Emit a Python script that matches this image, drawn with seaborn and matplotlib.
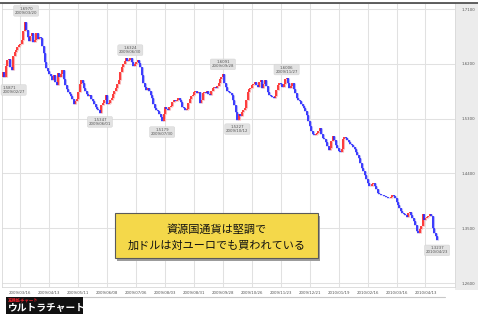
import numpy as np
import pandas as pd
import matplotlib
matplotlib.use("Agg")
import matplotlib.pyplot as plt
import seaborn as sns
from matplotlib.patches import Rectangle
from matplotlib.lines import Line2D

# ---------------- data ----------------
start_date = "2009-02-26"
end_date = "2010-04-23"
skip_dates = ["2010-01-01"]
first_open = 1.5990

# daily closes in pips (1/10000)
close_pips = [
    16065, 15983, 16163, 16263, 16280, 16148, 16098, 16329, 16394, 16427,
    16476, 16509, 16525, 16591, 16739, 16886, 16755, 16640, 16574, 16657,
    16706, 16558, 16591, 16706, 16607, 16640, 16624, 16493, 16378, 16230,
    16131, 16082, 16033, 16000, 15934, 16016, 15901, 15852, 16049, 15983,
    16033, 16098, 15950, 15852, 15786, 15737, 15704, 15671, 15622, 15540,
    15589, 15622, 15737, 15869, 15934, 15885, 15803, 15754, 15704, 15671,
    15688, 15622, 15589, 15540, 15491, 15458, 15442, 15392, 15524, 15557,
    15606, 15688, 15540, 15557, 15606, 15639, 15704, 15754, 15803, 15869,
    15934, 16065, 16148, 16197, 16246, 16296, 16246, 16263, 16296, 16230,
    16164, 16197, 16230, 16263, 16214, 16148, 16016, 15885, 15819, 15770,
    15803, 15754, 15688, 15639, 15540, 15475, 15442, 15425, 15376, 15327,
    15261, 15376, 15491, 15458, 15442, 15491, 15507, 15573, 15606, 15589,
    15606, 15639, 15606, 15573, 15491, 15475, 15442, 15458, 15557, 15622,
    15671, 15688, 15737, 15754, 15721, 15737, 15557, 15606, 15721, 15737,
    15721, 15754, 15704, 15688, 15754, 15803, 15819, 15803, 15836, 15885,
    15951, 15983, 16033, 15885, 15819, 15754, 15737, 15721, 15688, 15606,
    15524, 15409, 15277, 15376, 15343, 15409, 15442, 15475, 15606, 15737,
    15786, 15803, 15852, 15869, 15901, 15852, 15819, 15901, 15934, 15803,
    15869, 15934, 15836, 15737, 15688, 15671, 15655, 15639, 15671, 15770,
    15852, 15885, 15869, 15819, 15869, 15951, 15967, 15885, 15803, 15836,
    15885, 15786, 15721, 15639, 15606, 15589, 15540, 15507, 15475, 15425,
    15359, 15261, 15179, 15097, 15048, 15031, 15048, 15064, 15097, 15146,
    15048, 14982, 14966, 14916, 14850, 14785, 14818, 14933, 15015, 14949,
    14867, 14818, 14769, 14752, 14801, 14966, 14999, 14982, 14949, 14916,
    14884, 14867, 14834, 14801, 14752, 14703, 14654, 14572, 14489, 14440,
    14374, 14309, 14243, 14194, 14194, 14226, 14243, 14194, 14144, 14079,
    14062, 14046, 14046, 14030, 14030, 14013, 13997, 13997, 14013, 14046,
    14030, 13997, 13931, 13882, 13832, 13783, 13750, 13734, 13717, 13684,
    13750, 13767, 13717, 13668, 13619, 13553, 13454, 13422, 13488, 13537,
    13734, 13635, 13668, 13684, 13701, 13734, 13701, 13504, 13422, 13373,
    13307,
]

y_ticks = [1.26, 1.35, 1.44, 1.53, 1.62, 1.71]
x_tick_dates = ["2009/03/16", "2009/04/13", "2009/05/11", "2009/06/08", "2009/07/06",
                "2009/08/03", "2009/08/31", "2009/09/28", "2009/10/26", "2009/11/23",
                "2009/12/21", "2010/01/19", "2010/02/16", "2010/03/16", "2010/04/13"]

ann_dates = ["2009/03/20", "2009/02/27", "2009/06/01", "2009/06/30", "2009/07/30",
             "2009/09/28", "2009/10/12", "2009/11/27", "2010/04/23"]
ann_prices = [1.6970, 1.5871, 1.5347, 1.6324, 1.5179, 1.6091, 1.5227, 1.6006, 1.3237]
ann_kind = ["high", "low", "low", "high", "low", "high", "low", "high", "low"]

note_lines = ["資源国通貨は堅調で", "加ドルは対ユーロでも買われている"]
logo_small = "高機能チャート"
logo_big = "ウルトラチャート"

# ---------------- build table ----------------
dates = pd.bdate_range(start_date, end_date).drop(pd.to_datetime(skip_dates))
closes = np.array(close_pips) / 10000.0
n = min(len(dates), len(closes))
dates = dates[:n]
closes = closes[:n]
opens = np.concatenate([[first_open], closes[:-1]])
direction = np.where(closes >= opens, "up", "down")

rows = []
for i in range(n):
    rows.append({"idx": i, "price": opens[i], "dir": direction[i]})
    rows.append({"idx": i, "price": closes[i], "dir": direction[i]})
df = pd.DataFrame(rows)

# ---------------- figure ----------------
sns.set_style("white")
plt.rcParams["font.family"] = ["DejaVu Sans"]

W, H = 478, 316
fig = plt.figure(figsize=(W / 100, H / 100), dpi=100)
fig.patch.set_facecolor("white")

def fx(px):
    return px / W

def fy(py):
    return 1 - py / H

# grey right strip
fig.add_artist(Rectangle((fx(455), fy(290)), 1 - fx(455), fy(3) - fy(290),
                         transform=fig.transFigure, facecolor="#ececec",
                         edgecolor="none", zorder=-5))

ax = fig.add_axes([fx(2), fy(287), fx(455) - fx(2), fy(3) - fy(287)])
ax.set_facecolor("white")

# soft halo behind candle bodies
sns.lineplot(data=df, x="idx", y="price", units="idx", estimator=None,
             hue="dir", palette={"up": "#f7b4b4", "down": "#b9b9f7"},
             legend=False, linewidth=2.2, sort=False, ax=ax)
n_halo = len(ax.lines)
# candle bodies
sns.lineplot(data=df, x="idx", y="price", units="idx", estimator=None,
             hue="dir", palette={"up": "#ff1f1f", "down": "#2020ff"},
             legend=False, linewidth=1.15, sort=False, ax=ax)
for k, ln in enumerate(ax.lines):
    ln.set_solid_capstyle("butt")
    ln.set_zorder(2 if k < n_halo else 3)

ax.set_xlim(-0.69, 312.4)
ax.set_ylim(1.2535, 1.7199)

ax.set_yticks(y_ticks)
ax.set_yticklabels([f"{v:.4f}" for v in y_ticks])
ax.yaxis.tick_right()
ax.tick_params(axis="y", length=0, pad=5, labelsize=2.8, colors="#555555")

date_strs = [d.strftime("%Y/%m/%d") for d in dates]
x_pos = [date_strs.index(d) for d in x_tick_dates]
ax.set_xticks(x_pos)
ax.set_xticklabels(x_tick_dates)
ax.tick_params(axis="x", length=0, pad=2.6, labelsize=2.8, colors="#555555")

ax.grid(True, color="#e1e1e1", linewidth=0.75)
ax.set_axisbelow(True)
ax.set_xlabel("")
ax.set_ylabel("")
for s in ax.spines.values():
    s.set_color("#d8d8d8")
    s.set_linewidth(0.6)

# annotations
for d, p, k in zip(ann_dates, ann_prices, ann_kind):
    i = date_strs.index(d)
    dy = 4.4 if k == "high" else -4.4
    ha = "center"
    dx = 0
    if i < 5:
        ha = "left"
        dx = -1.5
    ax.annotate(f"{p:.4f}\n{d}", xy=(i, p), xytext=(dx, dy),
                textcoords="offset points", ha=ha, va="center",
                fontsize=2.8, color="#555555", linespacing=1.0,
                bbox=dict(boxstyle="round,pad=0.35", fc="#e2e2e2",
                          ec="#d0d0d0", lw=0.3), zorder=5)

# top dark line and bottom line
fig.add_artist(Line2D([0, 1], [fy(3), fy(3)], transform=fig.transFigure,
                      color="#444444", linewidth=1.2))
fig.add_artist(Line2D([fx(83), fx(445)], [fy(297), fy(297)],
                      transform=fig.transFigure, color="#c8c8c8", linewidth=0.8))

# yellow note box
fig.add_artist(Rectangle((fx(117), fy(260.5)), fx(318) - fx(115), fy(213) - fy(258),
                         transform=fig.transFigure, facecolor="#9c9c9c",
                         edgecolor="none", zorder=6))
fig.add_artist(Rectangle((fx(115), fy(258)), fx(318) - fx(115), fy(213) - fy(258),
                         transform=fig.transFigure, facecolor="#f4d84a",
                         edgecolor="#5a5a5a", linewidth=0.8, zorder=7))
fig.text(fx(216.5), fy(229.5), note_lines[0], ha="center", va="center",
         fontsize=8, color="#111111", family=["Noto Sans CJK JP", "DejaVu Sans"], zorder=8)
fig.text(fx(216.5), fy(245.5), note_lines[1], ha="center", va="center",
         fontsize=8, color="#111111", family=["Noto Sans CJK JP", "DejaVu Sans"], zorder=8)

# logo
fig.add_artist(Rectangle((fx(6), fy(314)), fx(83) - fx(6), fy(297) - fy(314),
                         transform=fig.transFigure, facecolor="#111111",
                         edgecolor="none", zorder=6))
fig.text(fx(8), fy(300.3), logo_small, ha="left", va="center", fontsize=3.2,
         color="#e8202a", fontweight="bold",
         family=["Noto Sans CJK JP", "DejaVu Sans"], zorder=8)
fig.text(fx(7.5), fy(308.3), logo_big, ha="left", va="center", fontsize=7,
         color="white", fontweight="bold",
         family=["Noto Sans CJK JP", "DejaVu Sans"], zorder=8)

fig.savefig("out.png", dpi=100)
